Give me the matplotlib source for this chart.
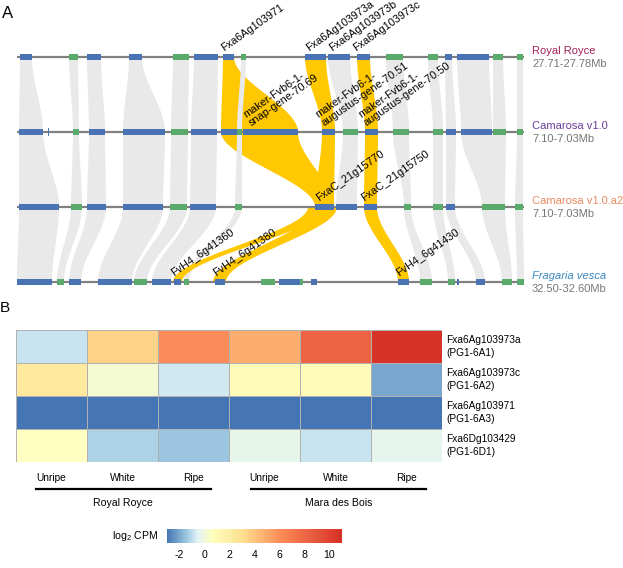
import numpy as np
import matplotlib
matplotlib.use("Agg")
import matplotlib.pyplot as plt
from matplotlib.colors import LinearSegmentedColormap

plt.rcParams['font.family'] = ['Liberation Sans', 'DejaVu Sans']
plt.rcParams['mathtext.fontset'] = 'custom'
plt.rcParams['mathtext.rm'] = 'Liberation Sans'
plt.rcParams['axes.unicode_minus'] = False

# --- Panel A data: gene blocks on each genome track (start, end, strand colour) ---
track_names = ["Royal Royce", "Camarosa v1.0", "Camarosa v1.0.a2", "Fragaria vesca"]
track_ranges = ["27.71-27.78Mb", "7.10-7.03Mb", "7.10-7.03Mb", "32.50-32.60Mb"]
track_colors = ["#a0205a", "#6a3d9a", "#e98a5f", "#3b87c2"]

rr_blocks = [(20, 32, 'b'), (69, 78, 'g'), (87, 101, 'b'), (129, 142, 'b'), (173, 189, 'g'),
             (194, 218, 'b'), (223, 234, 'b'), (241, 246, 'g'), (305, 326, 'b'), (328, 350, 'b'),
             (357, 370, 'b'), (386, 403, 'g'), (428, 438, 'g'), (445, 452, 'b'), (457, 489, 'b'),
             (493, 503, 'g'), (517, 523, 'g')]
cam_blocks = [(19, 43, 'b'), (47.5, 48.5, 'b'), (73, 79, 'g'), (89, 105, 'b'), (123, 165, 'b'),
              (171, 188, 'g'), (191, 217, 'b'), (221, 237, 'b'), (237, 242, 'g'), (243, 298, 'b'),
              (322, 335, 'b'), (343, 358, 'g'), (365, 378, 'b'), (393, 409, 'g'), (433, 443, 'g'),
              (446, 456, 'b'), (461, 492, 'b'), (493, 506, 'g'), (517, 523, 'g')]
a2_blocks = [(19, 59, 'b'), (71, 82, 'g'), (87, 106, 'b'), (123, 163, 'b'), (170, 187, 'g'),
             (190, 216, 'b'), (235, 242, 'g'), (315, 334, 'b'), (336, 357, 'b'), (364, 377, 'b'),
             (404, 411, 'g'), (433, 443, 'g'), (446, 455, 'b'), (482, 505, 'g'), (515, 523, 'g')]
fv_blocks = [(17, 52, 'b'), (57, 64, 'g'), (69, 81, 'b'), (98, 132, 'b'), (134, 147, 'g'),
             (152, 171, 'b'), (174, 181, 'b'), (184, 189, 'g'), (215, 225, 'b'), (261, 275, 'g'),
             (279, 300, 'b'), (300, 303, 'g'), (311, 317, 'b'), (398, 409, 'b'), (420, 432, 'g'),
             (448, 455, 'g'), (457, 459, 'b'), (476, 485, 'b'), (502, 512, 'g'), (517, 524, 'g')]

# syntenic links between consecutive tracks: (top start, top end, bottom start, bottom end, highlight)
links_12 = [(20, 32, 19, 43, 0), (69, 78, 73, 79, 0), (87, 101, 89, 105, 0), (129, 142, 123, 165, 0),
            (173, 189, 171, 188, 0), (194, 218, 191, 217, 0), (223, 234, 221, 298, 1),
            (241, 246, 237, 242, 0), (305, 326, 322, 335, 1), (328, 350, 343, 358, 0),
            (357, 370, 365, 378, 1), (386, 403, 393, 409, 0), (428, 438, 433, 443, 0),
            (445, 452, 446, 456, 0), (457, 489, 461, 492, 0), (493, 503, 493, 506, 0),
            (517, 523, 517, 523, 0)]
links_23 = [(19, 43, 19, 59, 0), (73, 79, 71, 82, 0), (89, 105, 87, 106, 0), (123, 165, 123, 163, 0),
            (171, 188, 170, 187, 0), (191, 217, 190, 216, 0), (221, 298, 315, 334, 1),
            (237, 242, 235, 242, 0), (322, 335, 315, 334, 1), (343, 358, 336, 357, 0),
            (365, 378, 364, 377, 1), (393, 409, 404, 411, 0), (433, 443, 433, 443, 0),
            (446, 456, 446, 455, 0), (461, 506, 482, 505, 0), (517, 523, 515, 523, 0)]
links_34 = [(19, 59, 17, 52, 0), (71, 82, 57, 64, 0), (87, 106, 69, 81, 0), (123, 163, 98, 132, 0),
            (170, 187, 134, 147, 0), (190, 216, 152, 171, 0), (235, 242, 184, 189, 0),
            (308, 326, 173, 182, 1), (316, 337, 213, 226, 1), (364, 377, 398, 409, 1),
            (404, 411, 420, 432, 0), (433, 443, 448, 455, 0), (446, 455, 476, 485, 0),
            (482, 505, 502, 512, 0), (515, 523, 517, 524, 0)]

# highlighted gene labels: (text, x, track index)
gene_labels = [("Fxa6Ag103971", 225, 0), ("Fxa6Ag103973a", 310, 0), ("Fxa6Ag103973b", 333, 0),
               ("Fxa6Ag103973c", 357, 0),
               ("maker-Fvb6-1-\nsnap-gene-70.69", 253, 1),
               ("maker-Fvb6-1-\naugustus-gene-70.51", 325, 1),
               ("maker-Fvb6-1-\naugustus-gene-70.50", 368, 1),
               ("FxaC_21g15770", 320, 2), ("FxaC_21g15750", 365, 2),
               ("FvH4_6g41360", 175, 3), ("FvH4_6g41380", 217, 3), ("FvH4_6g41430", 400, 3)]

# --- Panel B data ---
genes = ["Fxa6Ag103973a\n(PG1-6A1)", "Fxa6Ag103973c\n(PG1-6A2)",
         "Fxa6Ag103971\n(PG1-6A3)", "Fxa6Dg103429\n(PG1-6D1)"]
stages = ["Unripe", "White", "Ripe", "Unripe", "White", "Ripe"]
cultivars = ["Royal Royce", "Mara des Bois"]
log2cpm = np.array([
    [-0.9, 3.5, 6.1, 4.8, 8.2, 10.8],
    [2.3, 0.2, -0.8, 0.9, 0.9, -2.05],
    [-3.0, -3.0, -3.0, -3.0, -3.0, -3.0],
    [0.6, -1.25, -1.45, -0.3, -0.9, -0.37],
])
cbar_ticks = [-2, 0, 2, 4, 6, 8, 10]

BLUE, GREEN, GOLD, GRAY = "#4a73b5", "#5aab6b", "#ffc800", "#e9e9e9"
track_y = [57, 132, 207, 282]

fig = plt.figure(figsize=(6.23, 5.68), dpi=100)
ax = fig.add_axes([0, 0, 1, 1])
ax.set_xlim(0, 623)
ax.set_ylim(568, 0)
ax.axis('off')


def ribbon(x0a, x0b, y0, x1a, x1b, y1, color, z):
    t = np.linspace(0, 1, 60)
    s = 3 * t ** 2 - 2 * t ** 3
    y = y0 + (y1 - y0) * t
    xl = x0a + (x1a - x0a) * s
    xr = x0b + (x1b - x0b) * s
    ax.fill(np.r_[xl, xr[::-1]], np.r_[y, y[::-1]], color=color, lw=0, zorder=z)


for gi, links in enumerate([links_12, links_23, links_34]):
    for a0, b0, a1, b1, hl in links:
        if hl:
            z = 1.5 if gi == 2 else 0.5
            ribbon(a0, b0, track_y[gi], a1, b1, track_y[gi + 1], GOLD, z)
        else:
            ribbon(a0, b0, track_y[gi], a1, b1, track_y[gi + 1], GRAY, 1)

for ty, blocks in zip(track_y, [rr_blocks, cam_blocks, a2_blocks, fv_blocks]):
    ax.plot([17, 524], [ty, ty], color="#808080", lw=1.6, zorder=2, solid_capstyle='butt')
    for s0, s1, c in blocks:
        h = 8 if s1 - s0 < 2 else 6
        ax.add_patch(plt.Rectangle((s0, ty - h / 2), s1 - s0, h,
                                   color=BLUE if c == 'b' else GREEN, lw=0, zorder=3))

for txt, x, ti in gene_labels:
    ax.text(x, track_y[ti] - 4, txt, rotation=35, rotation_mode='anchor', ha='left', va='bottom',
            fontsize=7.8, linespacing=1.0, zorder=5)

for i, ty in enumerate(track_y):
    ax.text(532, ty - 6, track_names[i], color=track_colors[i], fontsize=8, va='center',
            style='italic' if i == 3 else 'normal')
    ax.text(532, ty + 7, track_ranges[i], color="#777777", fontsize=8, va='center')

ax.text(2, 14, "A", fontsize=12, va='center')
ax.text(0, 308, "B", fontsize=11, va='center')

# --- Panel B heatmap ---
nodes = [-3, -1.6, -0.6, 0.6, 3, 6, 11]
cols = ['#4575b4', '#91bfdb', '#e0f3f8', '#ffffbf', '#fee090', '#fc8d59', '#d73027']
cmap = LinearSegmentedColormap.from_list(
    "cpm", [((v - nodes[0]) / (nodes[-1] - nodes[0]), c) for v, c in zip(nodes, cols)])

axB = fig.add_axes([16 / 623, 1 - 462 / 568, 426 / 623, 132 / 568])
mesh = axB.pcolormesh(log2cpm, cmap=cmap, vmin=-3, vmax=11, edgecolors='#b0b0b0', linewidth=0.7)
axB.set_xlim(0, 6)
axB.set_ylim(4, 0)
axB.axis('off')

for i, g in enumerate(genes):
    axB.text(6.06, i + 0.5, g, fontsize=7.3, va='center', ha='left', linespacing=1.35)
for j, st in enumerate(stages):
    axB.text(j + 0.5, 4.48, st, fontsize=7.3, ha='center', va='center')
for k, cv in enumerate(cultivars):
    x0 = 0.28 + 3.03 * k
    axB.plot([x0, x0 + 2.46], [4.82, 4.82], color='black', lw=1.6, clip_on=False)
    axB.text(1.51 + 3.03 * k, 5.24, cv, fontsize=7.6, ha='center', va='center')

cax = fig.add_axes([167 / 623, 1 - 543 / 568, 175 / 623, 14 / 568])
cb = fig.colorbar(mesh, cax=cax, orientation='horizontal', ticks=cbar_ticks)
cb.outline.set_visible(False)
cax.tick_params(length=0, labelsize=7.6, pad=5)
ax.text(158, 536, r"log$_\mathregular{2}$ CPM", fontsize=7.6, ha='right', va='center')

fig.savefig("out.png", dpi=100)
